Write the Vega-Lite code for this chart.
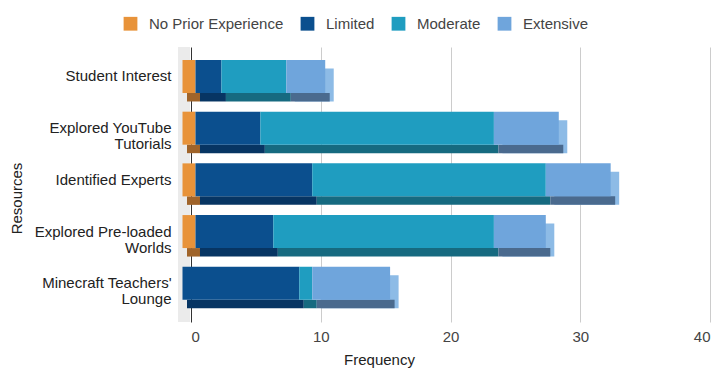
{
  "$schema": "https://vega.github.io/schema/vega-lite/v6.json",
  "width": 519,
  "height": 275,
  "autosize": "none",
  "padding": {"left": 191, "top": 47, "right": 8, "bottom": 47},
  "background": "white",
  "config": {"font": "Liberation Sans", "view": {"stroke": null}},
  "data": {
    "values": [
      {"resource": "Student Interest", "level": "No Prior Experience", "rank": 1, "count": 1},
      {"resource": "Student Interest", "level": "Limited", "rank": 2, "count": 2},
      {"resource": "Student Interest", "level": "Moderate", "rank": 3, "count": 5},
      {"resource": "Student Interest", "level": "Extensive", "rank": 4, "count": 3},
      {"resource": "Explored YouTube Tutorials", "level": "No Prior Experience", "rank": 1, "count": 1},
      {"resource": "Explored YouTube Tutorials", "level": "Limited", "rank": 2, "count": 5},
      {"resource": "Explored YouTube Tutorials", "level": "Moderate", "rank": 3, "count": 18},
      {"resource": "Explored YouTube Tutorials", "level": "Extensive", "rank": 4, "count": 5},
      {"resource": "Identified Experts", "level": "No Prior Experience", "rank": 1, "count": 1},
      {"resource": "Identified Experts", "level": "Limited", "rank": 2, "count": 9},
      {"resource": "Identified Experts", "level": "Moderate", "rank": 3, "count": 18},
      {"resource": "Identified Experts", "level": "Extensive", "rank": 4, "count": 5},
      {"resource": "Explored Pre-loaded Worlds", "level": "No Prior Experience", "rank": 1, "count": 1},
      {"resource": "Explored Pre-loaded Worlds", "level": "Limited", "rank": 2, "count": 6},
      {"resource": "Explored Pre-loaded Worlds", "level": "Moderate", "rank": 3, "count": 17},
      {"resource": "Explored Pre-loaded Worlds", "level": "Extensive", "rank": 4, "count": 4},
      {"resource": "Minecraft Teachers' Lounge", "level": "Limited", "rank": 2, "count": 9},
      {"resource": "Minecraft Teachers' Lounge", "level": "Moderate", "rank": 3, "count": 1},
      {"resource": "Minecraft Teachers' Lounge", "level": "Extensive", "rank": 4, "count": 6}
    ]
  },
  "transform": [
    {"stack": "count", "groupby": ["resource"], "sort": [{"field": "rank", "order": "ascending"}], "as": ["x0", "x1"]}
  ],
  "encoding": {
    "y": {
      "field": "resource", "type": "nominal", "title": "Resources",
      "sort": ["Student Interest", "Explored YouTube Tutorials", "Identified Experts", "Explored Pre-loaded Worlds", "Minecraft Teachers' Lounge"],
      "scale": {"paddingInner": 0, "paddingOuter": 0.16, "align": 0.22},
      "axis": {
        "titleFontSize": 15, "titleFontWeight": "normal", "titleColor": "#222222",
        "titleX": -167, "titleY": 151,
        "labelFontSize": 15, "labelColor": "#222222", "labelPadding": 20, "labelLimit": 200, "labelLineHeight": 16,
        "labelExpr": "datum.value === 'Explored YouTube Tutorials' ? ['Explored YouTube', 'Tutorials'] : datum.value === 'Explored Pre-loaded Worlds' ? ['Explored Pre-loaded', 'Worlds'] : datum.value === \"Minecraft Teachers' Lounge\" ? [\"Minecraft Teachers'\", 'Lounge'] : datum.value",
        "domain": false, "ticks": false, "grid": false
      }
    },
    "x": {
      "field": "x0", "type": "quantitative", "title": "Frequency",
      "scale": {"domain": [0, 40]},
      "axis": {
        "values": [0, 10, 20, 30, 40], "grid": true,
        "gridColor": {"condition": {"test": "datum.value === 0", "value": "#333333"}, "value": "#cccccc"},
        "domain": false, "ticks": false,
        "labelFontSize": 15, "labelColor": "#444444", "labelPadding": 7,
        "titleFontSize": 15, "titleFontWeight": "normal", "titleColor": "#222222",
        "titlePadding": 8, "titleX": 188
      }
    },
    "x2": {"field": "x1"}
  },
  "layer": [
    {
      "description": "light side wall left of the zero line",
      "mark": {"type": "rect", "color": "#ebebeb", "xOffset": -13, "x2Offset": -1},
      "encoding": {
        "x": {"datum": 0, "type": "quantitative"},
        "x2": {"datum": 0},
        "y": null
      }
    },
    {
      "description": "right end face of each bar",
      "transform": [{"filter": "datum.level === 'Extensive'"}],
      "mark": {"type": "bar", "height": 33, "yOffset": 8.5, "color": "#8dbbe6"}
    },
    {
      "description": "shaded underside of each segment",
      "mark": {"type": "bar", "height": 8.5, "yOffset": 20.75, "xOffset": -4, "x2Offset": -4},
      "encoding": {
        "color": {
          "field": "level", "type": "nominal",
          "scale": {"domain": ["No Prior Experience", "Limited", "Moderate", "Extensive"], "range": ["#a0642a", "#073563", "#166a80", "#4a6a8e"]},
          "legend": null
        }
      }
    },
    {
      "description": "front faces",
      "mark": {"type": "bar", "height": 33, "xOffset": -8.5, "x2Offset": -8.5},
      "encoding": {
        "color": {
          "field": "level", "type": "nominal",
          "sort": ["No Prior Experience", "Limited", "Moderate", "Extensive"],
          "scale": {"domain": ["No Prior Experience", "Limited", "Moderate", "Extensive"], "range": ["#e8933a", "#0b4f8e", "#1f9dc0", "#6fa5dc"]},
          "legend": {
            "orient": "none", "legendX": -68, "legendY": -31, "direction": "horizontal", "title": null,
            "symbolType": "square", "symbolSize": 190, "symbolStrokeWidth": 0,
            "labelFontSize": 15, "labelColor": "#444444", "labelOffset": 11, "columnPadding": 16
          }
        }
      }
    }
  ],
  "resolve": {"scale": {"color": "independent"}}
}
